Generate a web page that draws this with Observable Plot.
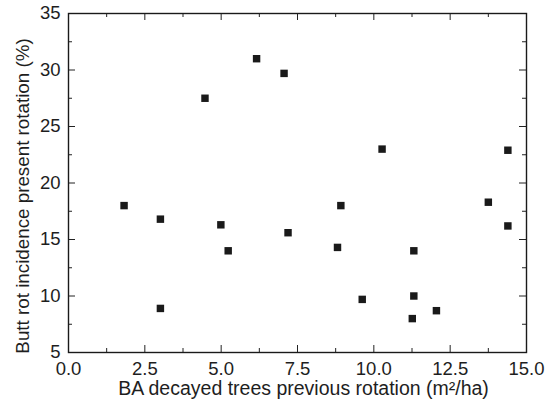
<!DOCTYPE html>
<html>
<head>
<meta charset="utf-8">
<script src="https://cdn.jsdelivr.net/npm/d3@7"></script>
<script src="https://cdn.jsdelivr.net/npm/@observablehq/plot@0.6"></script>
<style>
  html, body { margin: 0; padding: 0; background: #fff; }
  #chart { width: 550px; height: 404px; }
</style>
</head>
<body>
<div id="chart"></div>
<script>
// BA decayed trees previous rotation (m²/ha)
const baDecayed = [1.82, 3.01, 3.01, 4.47, 4.99, 5.23, 6.16, 7.06, 7.19, 8.81, 8.92, 9.62, 10.27, 11.26, 11.31, 11.31, 12.05, 13.75, 14.39, 14.39];
// Butt rot incidence present rotation (%)
const buttRot = [18.0, 16.8, 8.9, 27.5, 16.3, 14.0, 31.0, 29.7, 15.6, 14.3, 18.0, 9.7, 23.0, 8.0, 14.0, 10.0, 8.7, 18.3, 22.9, 16.2];

const xMajor = [0, 2.5, 5, 7.5, 10, 12.5, 15];
const xMinor = [1.25, 3.75, 6.25, 8.75, 11.25, 13.75];
const yMajor = [5, 10, 15, 20, 25, 30, 35];
const yMinor = [7.5, 12.5, 17.5, 22.5, 27.5, 32.5];

const xLabel = "BA decayed trees previous rotation (m²/ha)";
const yLabel = "Butt rot incidence present rotation (%)";

const data = baDecayed.map((x, i) => ({x, y: buttRot[i]}));

const W = 550, H = 404;
const mL = 68, mR = 24, mT = 13, mB = 52;
const pW = W - mL - mR, pH = H - mT - mB;
const major = 7, minor = 4;
const tickColor = "#222";
const textColor = "#1e1e1e";

const chart = Plot.plot({
  width: W,
  height: H,
  marginLeft: mL,
  marginRight: mR,
  marginTop: mT,
  marginBottom: mB,
  style: {fontFamily: "'Liberation Sans', Arial, Helvetica, sans-serif", fontSize: "18.5px", color: textColor, background: "#fff"},
  x: {domain: [0, 15]},
  y: {domain: [5, 35]},
  marks: [
    // inward ticks, bottom & top
    Plot.tickX(xMajor, {x: d => d, insetTop: pH - major, stroke: tickColor}),
    Plot.tickX(xMinor, {x: d => d, insetTop: pH - minor, stroke: tickColor}),
    Plot.tickX(xMajor, {x: d => d, insetBottom: pH - major, stroke: tickColor}),
    Plot.tickX(xMinor, {x: d => d, insetBottom: pH - minor, stroke: tickColor}),
    // inward ticks, left & right
    Plot.tickY(yMajor, {y: d => d, insetRight: pW - major, stroke: tickColor}),
    Plot.tickY(yMinor, {y: d => d, insetRight: pW - minor, stroke: tickColor}),
    Plot.tickY(yMajor, {y: d => d, insetLeft: pW - major, stroke: tickColor}),
    Plot.tickY(yMinor, {y: d => d, insetLeft: pW - minor, stroke: tickColor}),
    Plot.frame({stroke: "#1a1a1a", strokeWidth: 1.4}),
    Plot.axisX(xMajor, {
      tickSize: 0, tickPadding: 9, fontSize: 18.5,
      tickFormat: d => d.toFixed(1),
      label: null
    }),
    Plot.axisY(yMajor, {
      tickSize: 0, tickPadding: 8, fontSize: 18.5,
      tickFormat: d => String(d),
      label: null
    }),
    Plot.text([xLabel], {
      text: d => d, frameAnchor: "bottom", textAnchor: "middle", lineAnchor: "middle",
      dy: 36, dx: 6, fontSize: 19.5, fill: textColor
    }),
    Plot.text([yLabel], {
      text: d => d, frameAnchor: "left", textAnchor: "middle", lineAnchor: "middle", rotate: -90,
      dx: -46, dy: 13, fontSize: 18.8, fill: textColor
    }),
    Plot.dot(data, {x: "x", y: "y", symbol: "square", r: 4.2, fill: "#1a1a1a", stroke: null})
  ]
});

document.getElementById("chart").appendChild(chart);
</script>
</body>
</html>
